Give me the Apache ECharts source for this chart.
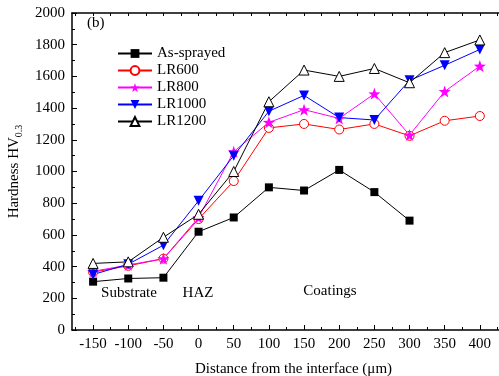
<!DOCTYPE html>
<html>
<head>
<meta charset="utf-8">
<script src="https://cdn.jsdelivr.net/npm/echarts@6/dist/echarts.min.js"></script>
<style>
  html, body { margin: 0; padding: 0; background: #fff; }
  #chart { width: 499px; height: 376px; }
</style>
</head>
<body>
<div id="chart"></div>
<script>
// distance from the interface (um)
const distance = [-150, -100, -50, 0, 50, 100, 150, 200, 250, 300, 350, 400];
const xTicks = [-150, -100, -50, 0, 50, 100, 150, 200, 250, 300, 350, 400];
const xMinorTicks = [-175, -125, -75, -25, 25, 75, 125, 175, 225, 275, 325, 375, 425];

// hardness HV0.3
const asSprayed = [305, 325, 330, 620, 710, 900, 880, 1010, 870, 690];
const lr600 = [365, 405, 450, 700, 940, 1275, 1300, 1265, 1300, 1225, 1320, 1350];
const lr800 = [370, 410, 450, 710, 1125, 1310, 1390, 1335, 1490, 1230, 1505, 1665];
const lr1000 = [350, 415, 535, 815, 1100, 1380, 1480, 1340, 1325, 1575, 1670, 1770];
const lr1200 = [420, 430, 585, 730, 1000, 1440, 1640, 1600, 1650, 1560, 1750, 1830];

const FONT = 'Liberation Serif';
const STAR = 'path://M0,-10 L2.35,-3.24 9.51,-3.09 3.8,1.24 5.88,8.09 0,4 -5.88,8.09 -3.8,1.24 -9.51,-3.09 -2.35,-3.24 Z';

function pairs(vals) {
  return vals.map((v, i) => [distance[i], v]);
}

function makeSeries(name, vals, color, symbol, size, extra) {
  return Object.assign({
    name: name,
    type: 'line',
    xAxisIndex: 0,
    data: pairs(vals),
    symbol: symbol,
    symbolSize: size,
    lineStyle: { color: color, width: 1 },
    itemStyle: { color: color },
    emphasis: { disabled: true },
    animation: false
  }, extra || {});
}

// hollow marker: white fill, thin coloured outline
function hollow(color) {
  return { itemStyle: { color: '#fff', borderColor: color, borderWidth: 1 } };
}

const chart = echarts.init(document.getElementById('chart'));

const axisLineStyle = { show: true, onZero: false, lineStyle: { color: '#000', width: 1.5 } };

chart.setOption({
  backgroundColor: '#fff',
  animation: false,
  grid: { left: 72, right: -16, top: 13, bottom: 46, outerBoundsMode: 'none', containLabel: false },
  legend: {
    orient: 'vertical',
    left: 112,
    top: 41,
    itemWidth: 34,
    itemHeight: 11,
    itemGap: 2,
    textStyle: { fontFamily: FONT, fontSize: 15, color: '#000' },
    data: ['As-sprayed', 'LR600', 'LR800', 'LR1000', 'LR1200']
  },
  xAxis: [
    {
      type: 'value', min: -180, max: 450, position: 'bottom',
      name: 'Distance from the interface (\u03bcm)',
      nameLocation: 'middle', nameGap: 32,
      nameTextStyle: { fontFamily: FONT, fontSize: 15, color: '#000' },
      axisLine: axisLineStyle,
      axisTick: { show: true, inside: true, length: 5, customValues: xTicks, lineStyle: { color: '#000' } },
      axisLabel: { customValues: xTicks, fontFamily: FONT, fontSize: 15, color: '#000', margin: 7, formatter: v => String(v) },
      splitLine: { show: false }
    },
    {
      type: 'value', min: -180, max: 450, position: 'bottom',
      axisLine: { show: false, onZero: false },
      axisTick: { show: true, inside: true, length: 3, customValues: xMinorTicks, lineStyle: { color: '#000' } },
      axisLabel: { show: false },
      splitLine: { show: false }
    },
    {
      type: 'value', min: -180, max: 450, position: 'top',
      axisLine: axisLineStyle,
      axisTick: { show: true, inside: true, length: 3, customValues: xTicks.concat(xMinorTicks), lineStyle: { color: '#000' } },
      axisLabel: { show: false },
      splitLine: { show: false }
    }
  ],
  yAxis: {
    type: 'value', min: 0, max: 2000, interval: 200,
    name: '{a|Hardness HV}{s|0.3}',
    nameLocation: 'middle', nameGap: 45,
    nameTextStyle: {
      rich: {
        a: { fontFamily: FONT, fontSize: 15, color: '#000', lineHeight: 20 },
        s: { fontFamily: FONT, fontSize: 10, color: '#000', verticalAlign: 'bottom', lineHeight: 14 }
      }
    },
    axisLine: axisLineStyle,
    axisTick: { show: true, inside: true, length: 5, lineStyle: { color: '#000' } },
    minorTick: { show: true, splitNumber: 2, length: 3, lineStyle: { color: '#000' } },
    axisLabel: { fontFamily: FONT, fontSize: 15, color: '#000', margin: 7, formatter: v => String(v) },
    splitLine: { show: false }
  },
  graphic: [
    { type: 'text', left: 87, top: 16, style: { text: '(b)', font: '15px "Liberation Serif"', fill: '#000' } },
    { type: 'text', x: 129, y: 293, style: { text: 'Substrate', font: '15px "Liberation Serif"', fill: '#000', align: 'center', verticalAlign: 'middle' } },
    { type: 'text', x: 198, y: 293, style: { text: 'HAZ', font: '15px "Liberation Serif"', fill: '#000', align: 'center', verticalAlign: 'middle' } },
    { type: 'text', x: 330, y: 291, style: { text: 'Coatings', font: '15px "Liberation Serif"', fill: '#000', align: 'center', verticalAlign: 'middle' } }
  ],
  series: [
    makeSeries('As-sprayed', asSprayed, '#000000', 'rect', 8),
    makeSeries('LR600', lr600, '#ff0000', 'circle', 9, hollow('#ff0000')),
    makeSeries('LR800', lr800, '#ff00ff', STAR, 12),
    makeSeries('LR1000', lr1000, '#0000ff', 'triangle', 10, { symbolRotate: 180 }),
    makeSeries('LR1200', lr1200, '#000000', 'triangle', 10, hollow('#000000'))
  ]
});
</script>
</body>
</html>
